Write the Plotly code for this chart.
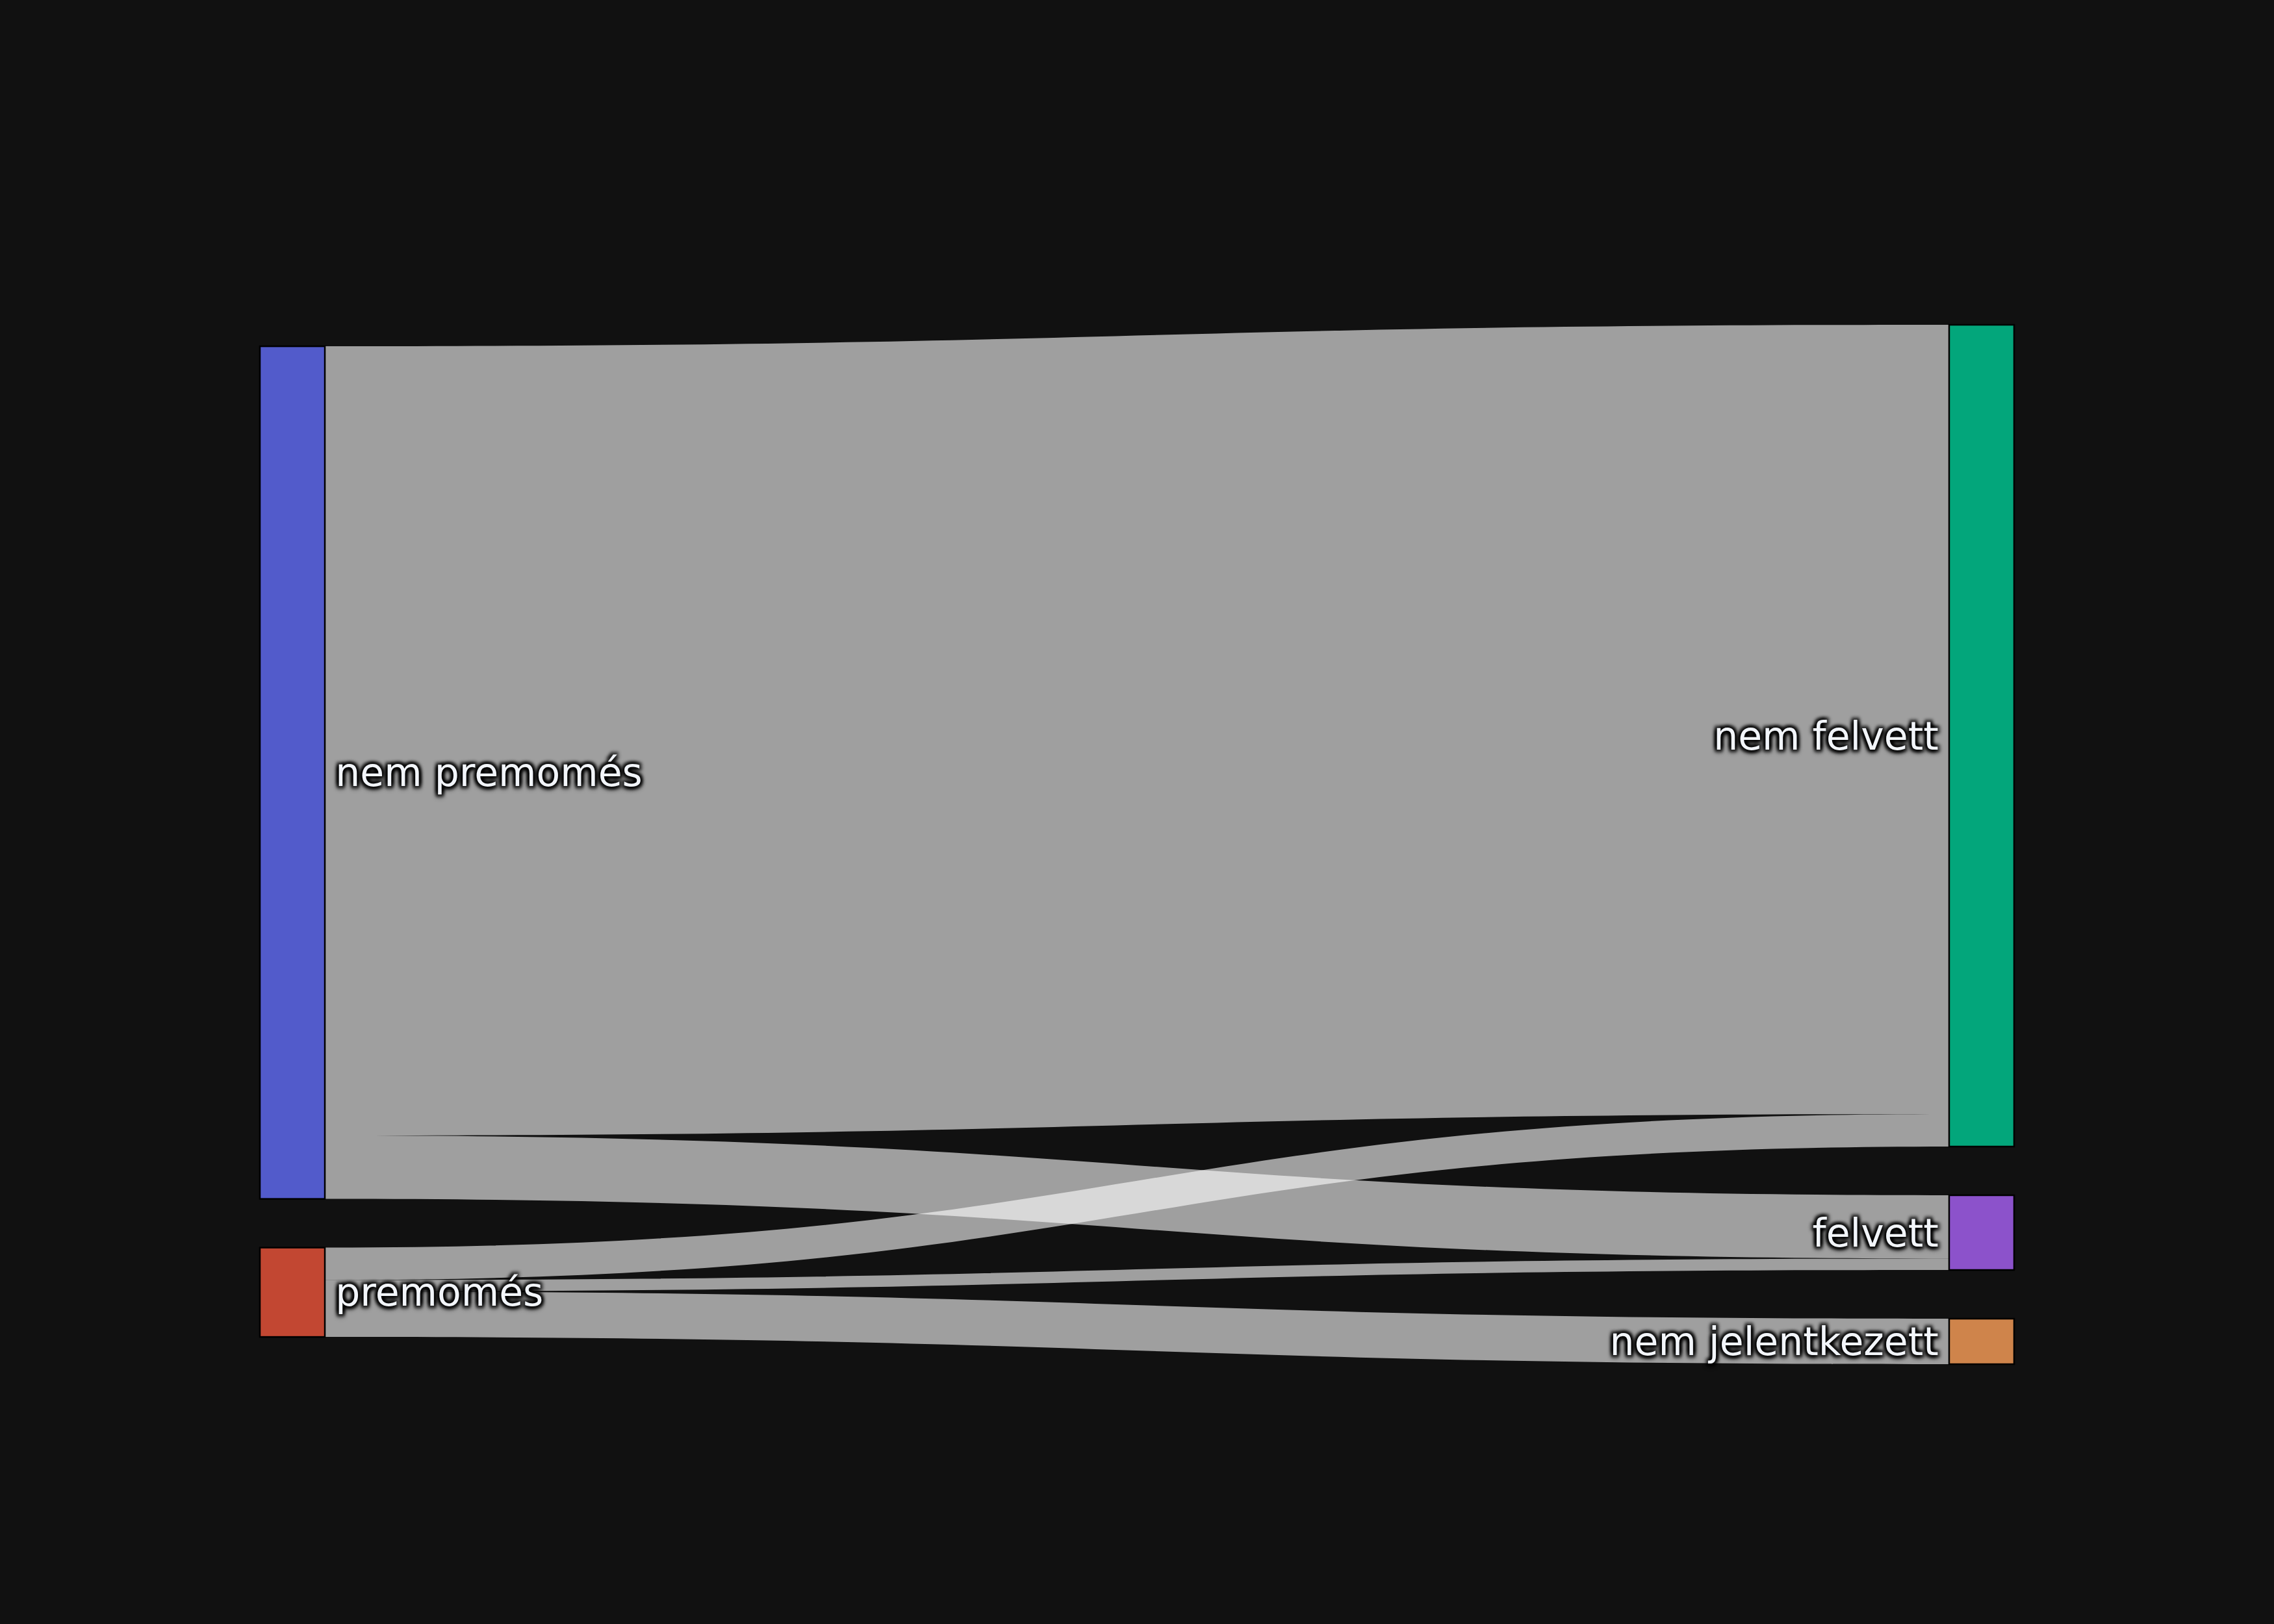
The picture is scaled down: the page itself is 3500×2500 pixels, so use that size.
import plotly.graph_objects as go

THIN = "\u2009"  # small visual padding between label and node

node_labels = ["nem premomés", "premomés", "nem felvett", "felvett", "nem jelentkezett"]
label_side = ["left", "left", "right", "right", "right"]
link_source = [0, 0, 1, 1, 1]
link_target = [2, 3, 2, 3, 4]
link_value = [486, 39, 20, 7, 28]

display_labels = [
    (THIN + lab) if side == "left" else (lab + THIN)
    for lab, side in zip(node_labels, label_side)
]

shadow = ("3px 3px 5px #000, -3px -3px 5px #000, 3px -3px 5px #000, "
          "-3px 3px 5px #000, 0px 3px 8px #000")

fig = go.Figure(go.Sankey(
    node=dict(
        label=display_labels,
        pad=75,
        thickness=100,
        line=dict(color="black", width=2.5),
    ),
    link=dict(
        source=link_source,
        target=link_target,
        value=link_value,
    ),
    textfont=dict(family="DejaVu Sans", size=60, color="#f2f5fa", shadow=shadow),
))

fig.update_layout(
    template="plotly_dark",
    font=dict(family="DejaVu Sans", size=60),
    margin=dict(l=400, r=400, t=500, b=400),
)

fig.write_html("out.html")
